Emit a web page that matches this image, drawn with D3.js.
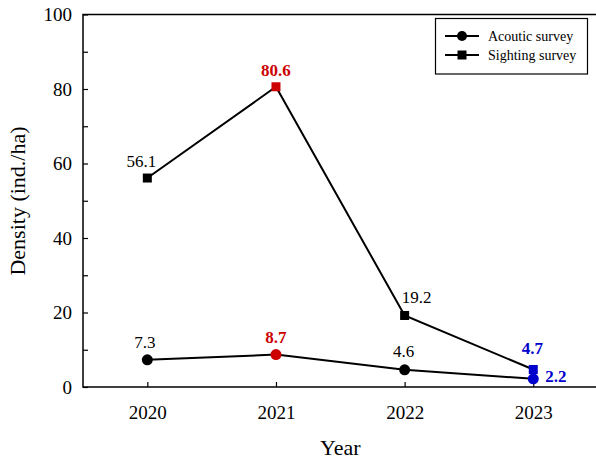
<!DOCTYPE html>
<html>
<head>
<meta charset="utf-8">
<script src="https://cdn.jsdelivr.net/npm/d3@7"></script>
<style>
  html, body { margin: 0; padding: 0; background: #fff; overflow: hidden; }
  svg { display: block; }
  svg text { font-family: "Liberation Serif", "Times New Roman", serif !important; }
</style>
</head>
<body>
<svg id="chart" width="596" height="461"></svg>
<script>
// Survey years and density estimates (individuals per hectare)
const years = [2020, 2021, 2022, 2023];
const acousticDensity = [7.3, 8.7, 4.6, 2.2];
const sightingDensity = [56.1, 80.6, 19.2, 4.7];
const yMajorTicks = [0, 20, 40, 60, 80, 100];
const yMinorTicks = [10, 30, 50, 70, 90];
const seriesNames = ["Acoutic survey", "Sighting survey"];

// Highlight colours: year of maximum in red, latest year in blue
const markerColor = ["#000000", "#cc0000", "#000000", "#0000cc"];

const svg = d3.select("#chart");
const margin = { left: 83, top: 14.5, right: 597.6, bottom: 387 };

const x = d3.scaleLinear().domain([2019.5, 2023.5]).range([margin.left, margin.right]);
const y = d3.scaleLinear().domain([0, 100]).range([margin.bottom, margin.top]);

// Frame
svg.append("rect")
  .attr("x", margin.left).attr("y", margin.top)
  .attr("width", margin.right - margin.left)
  .attr("height", margin.bottom - margin.top)
  .attr("fill", "none").attr("stroke", "#000").attr("stroke-width", 1.5);

// Y axis (ticks drawn inside the frame)
const yAxis = svg.append("g").attr("transform", `translate(${margin.left},0)`)
  .call(d3.axisLeft(y).tickValues(yMajorTicks).tickSizeInner(-5).tickSizeOuter(0).tickPadding(11));
yAxis.attr("font-family", null).attr("font-size", null);
yAxis.select(".domain").remove();
yAxis.selectAll("text").style("font-size", "19px").attr("fill", "#000");
yAxis.selectAll("line").attr("stroke-width", 1.2);

const yMinor = svg.append("g").attr("transform", `translate(${margin.left},0)`)
  .call(d3.axisLeft(y).tickValues(yMinorTicks).tickSizeInner(-5).tickSizeOuter(0).tickFormat(""));
yMinor.select(".domain").remove();
yMinor.selectAll("line").attr("stroke-width", 1.2);

// X axis
const xAxis = svg.append("g").attr("transform", `translate(0,${margin.bottom})`)
  .call(d3.axisBottom(x).tickValues(years).tickFormat(d3.format("d")).tickSizeInner(-5).tickSizeOuter(0).tickPadding(19));
xAxis.attr("font-family", null).attr("font-size", null);
xAxis.select(".domain").remove();
xAxis.selectAll("text").style("font-size", "19px").attr("fill", "#000");
xAxis.selectAll("line").attr("stroke-width", 1.2);

// Axis titles
svg.append("text")
  .attr("x", (margin.left + margin.right) / 2).attr("y", 455)
  .attr("text-anchor", "middle").style("font-size", "22px").text("Year");

svg.append("text")
  .attr("transform", "translate(25,201) rotate(-90)")
  .attr("text-anchor", "middle").style("font-size", "22px").text("Density (ind./ha)");

// Lines
const line = d3.line().x((d, i) => x(years[i])).y(d => y(d));
svg.append("path").datum(sightingDensity).attr("d", line)
  .attr("fill", "none").attr("stroke", "#000").attr("stroke-width", 2);
svg.append("path").datum(acousticDensity).attr("d", line)
  .attr("fill", "none").attr("stroke", "#000").attr("stroke-width", 2);

// Markers
const sq = 9;
svg.append("g").selectAll("rect").data(sightingDensity).join("rect")
  .attr("x", (d, i) => x(years[i]) - sq / 2)
  .attr("y", d => y(d) - sq / 2)
  .attr("width", sq).attr("height", sq)
  .attr("fill", (d, i) => markerColor[i]);

svg.append("g").selectAll("circle").data(acousticDensity).join("circle")
  .attr("cx", (d, i) => x(years[i]))
  .attr("cy", d => y(d))
  .attr("r", 5.5)
  .attr("fill", (d, i) => markerColor[i]);

// Value labels: offsets relative to each marker
const sightingLabelOffset = [[-6, -11], [0, -11], [12, -12], [-1, -15]];
const acousticLabelOffset = [[-2.5, -12], [0, -12], [-1, -13], [12, 3]];
const sightingAnchor = ["middle", "middle", "middle", "middle"];
const acousticAnchor = ["middle", "middle", "middle", "start"];

function drawLabels(values, offsets, anchors) {
  svg.append("g").selectAll("text").data(values).join("text")
    .attr("x", (d, i) => x(years[i]) + offsets[i][0])
    .attr("y", (d, i) => y(d) + offsets[i][1])
    .attr("text-anchor", (d, i) => anchors[i])
    .style("font-size", "17px")
    .attr("font-weight", (d, i) => markerColor[i] === "#000000" ? "normal" : "bold")
    .attr("fill", (d, i) => markerColor[i])
    .text(d => d3.format(".1f")(d));
}
drawLabels(sightingDensity, sightingLabelOffset, sightingAnchor);
drawLabels(acousticDensity, acousticLabelOffset, acousticAnchor);

// Legend
const legend = svg.append("g");
legend.append("rect")
  .attr("x", 435.5).attr("y", 18.5).attr("width", 152).attr("height", 55.5)
  .attr("fill", "#fff").attr("stroke", "#000").attr("stroke-width", 1.2);
const legendRows = [36, 55];
seriesNames.forEach((name, i) => {
  const ly = legendRows[i];
  legend.append("line").attr("x1", 445).attr("x2", 479).attr("y1", ly).attr("y2", ly)
    .attr("stroke", "#000").attr("stroke-width", 2);
  if (i === 0) {
    legend.append("circle").attr("cx", 462).attr("cy", ly).attr("r", 5).attr("fill", "#000");
  } else {
    legend.append("rect").attr("x", 462 - 4.5).attr("y", ly - 4.5).attr("width", 9).attr("height", 9).attr("fill", "#000");
  }
  legend.append("text").attr("x", 488).attr("y", ly + 5).style("font-size", "14px").text(name);
});
</script>
</body>
</html>
